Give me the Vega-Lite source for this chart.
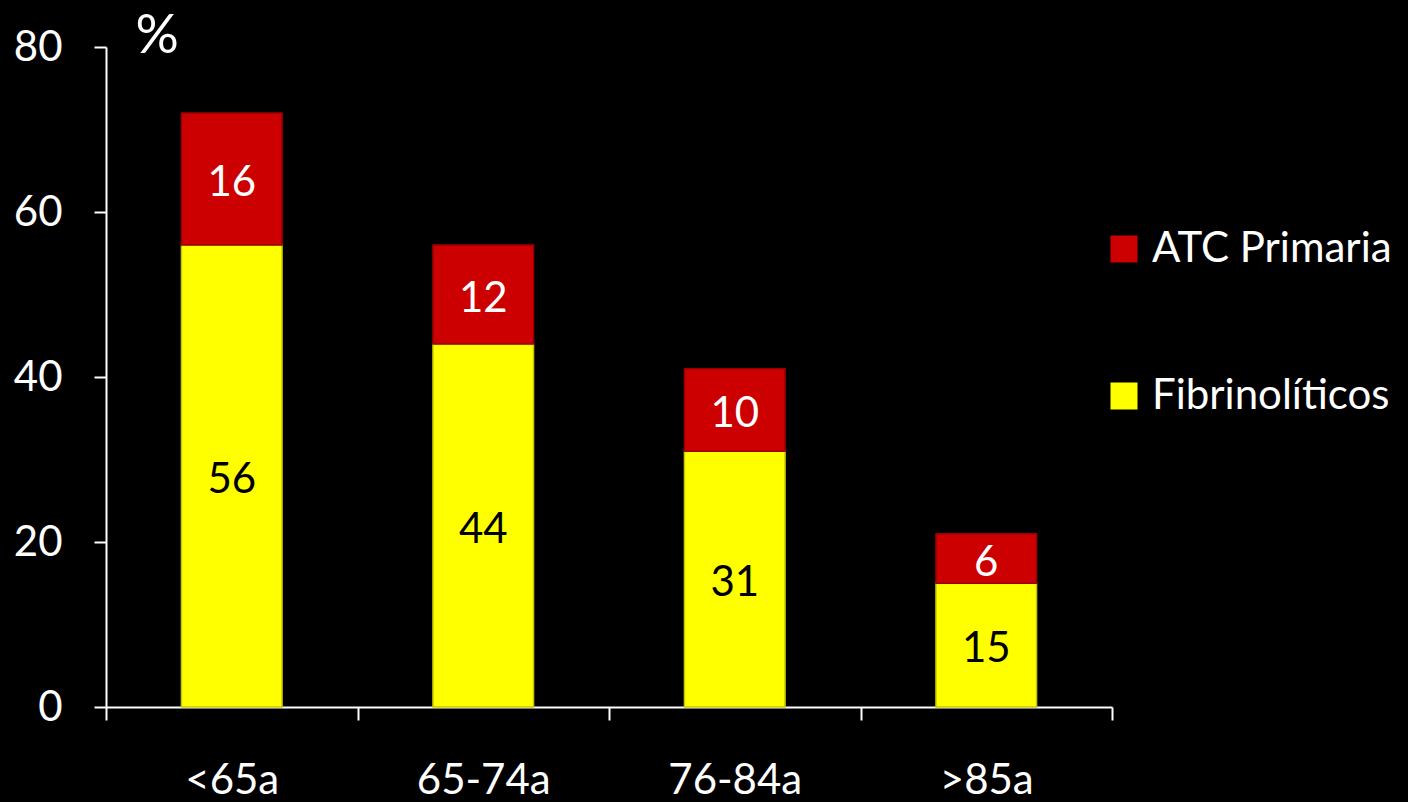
{
  "$schema": "https://vega.github.io/schema/vega-lite/v6.json",
  "autosize": {"type": "none"},
  "width": 1006,
  "height": 660,
  "padding": {"left": 106, "top": 47, "right": 296, "bottom": 95},
  "background": "#000000",
  "config": {
    "view": {"stroke": null},
    "font": "Lato",
    "axis": {"grid": false, "domainColor": "#ffffff", "tickColor": "#ffffff", "labelColor": "#ffffff", "titleColor": "#ffffff", "labelFont": "Lato", "labelFontSize": 42, "labelFontWeight": "normal", "domainWidth": 2, "tickWidth": 2},
    "legend": {"labelFont": "Lato", "labelColor": "#ffffff", "labelFontSize": 42, "labelLimit": 0}
  },
  "data": {
    "values": [
      {"edad": "<65a", "serie": "Fibrinolíticos", "valor": 56},
      {"edad": "<65a", "serie": "ATC Primaria", "valor": 16},
      {"edad": "65-74a", "serie": "Fibrinolíticos", "valor": 44},
      {"edad": "65-74a", "serie": "ATC Primaria", "valor": 12},
      {"edad": "76-84a", "serie": "Fibrinolíticos", "valor": 31},
      {"edad": "76-84a", "serie": "ATC Primaria", "valor": 10},
      {"edad": ">85a", "serie": "Fibrinolíticos", "valor": 15},
      {"edad": ">85a", "serie": "ATC Primaria", "valor": 6}
    ]
  },
  "transform": [
    {"stack": "valor", "groupby": ["edad"], "sort": [{"field": "serie", "order": "descending"}], "as": ["y0", "y1"]},
    {"calculate": "(datum.y0 + datum.y1) / 2", "as": "ymid"}
  ],
  "encoding": {
    "x": {
      "field": "edad", "type": "nominal", "sort": ["<65a", "65-74a", "76-84a", ">85a"],
      "scale": {"paddingInner": 0, "paddingOuter": 0},
      "axis": {"title": null, "labelAngle": 0, "tickBand": "extent", "tickSize": 13, "labelPadding": 40}
    }
  },
  "layer": [
    {
      "mark": {"type": "bar", "strokeWidth": 1.5, "width": {"band": 0.4}},
      "encoding": {
        "y": {
          "field": "y0", "type": "quantitative",
          "scale": {"domain": [0, 80], "nice": false},
          "axis": {"values": [0, 20, 40, 60, 80], "tickSize": 12, "labelPadding": 32, "title": "%", "titleAngle": 0, "titleFontSize": 54, "titleFont": "Lato", "titleFontWeight": "normal", "titleAlign": "left", "titleBaseline": "alphabetic", "titleX": 29, "titleY": 5}
        },
        "y2": {"field": "y1"},
        "color": {
          "field": "serie", "type": "nominal",
          "scale": {"domain": ["ATC Primaria", "Fibrinolíticos"], "range": ["#cc0000", "#ffff00"]},
          "legend": {"title": null, "orient": "none", "legendX": 997, "legendY": 181, "symbolType": "square", "symbolSize": 729, "symbolStrokeWidth": 0, "labelOffset": 7, "rowPadding": 105, "labelLimit": 0}
        },
        "stroke": {
          "field": "serie", "type": "nominal",
          "scale": {"domain": ["ATC Primaria", "Fibrinolíticos"], "range": ["#9a0000", "#c8c800"]},
          "legend": null
        }
      }
    },
    {
      "mark": {"type": "text", "fontSize": 42, "font": "Lato", "baseline": "middle", "align": "center", "dy": 4},
      "encoding": {
        "y": {"field": "ymid", "type": "quantitative"},
        "text": {"field": "valor", "type": "quantitative"},
        "color": {"condition": {"test": "datum.serie === 'ATC Primaria'", "value": "#ffffff"}, "value": "#000000"}
      }
    }
  ]
}
